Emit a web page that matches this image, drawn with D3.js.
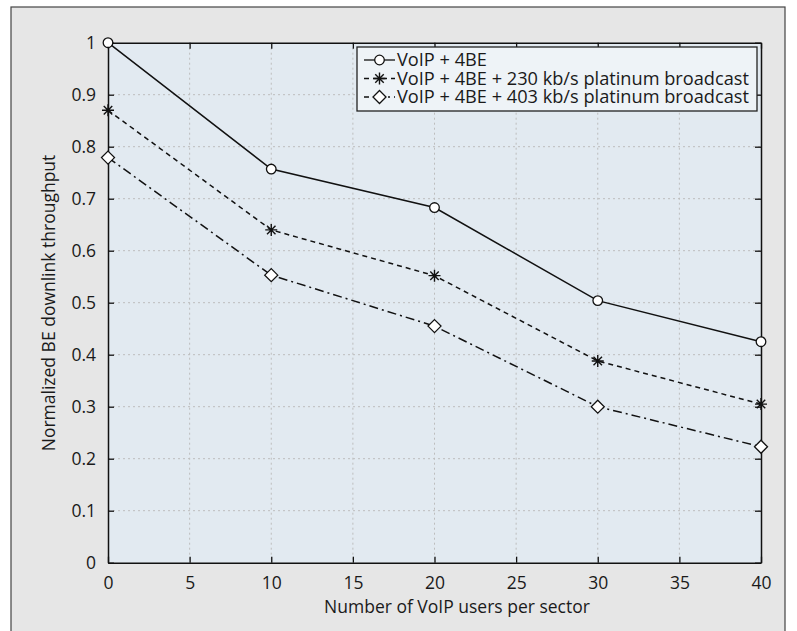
<!DOCTYPE html>
<html lang="en">
<head>
<meta charset="UTF-8">
<title>BE throughput</title>
<style>
  body { margin: 0; background: #fff; }
  text { font-family: "Open Sans", "Noto Sans", sans-serif; fill: #1a1a1a; }
</style>
</head>
<body>
<script src="https://d3js.org/d3.v7.min.js"></script>
<script>
const users = [0, 10, 20, 30, 40]
const base = [1.0, 0.757, 0.683, 0.504, 0.425]
const plat230 = [0.870, 0.640, 0.552, 0.388, 0.305]
const plat403 = [0.779, 0.553, 0.455, 0.300, 0.223]
const xTicks = [0, 5, 10, 15, 20, 25, 30, 35, 40]
const yTicks = [0, 0.1, 0.2, 0.3, 0.4, 0.5, 0.6, 0.7, 0.8, 0.9, 1]
const names = ["VoIP + 4BE",
  "VoIP + 4BE + 230 kb/s platinum broadcast",
  "VoIP + 4BE + 403 kb/s platinum broadcast"]

const W = 797, H = 631
const m = { left: 108, top: 42.7, right: 761, bottom: 562.7 }

const svg = d3.select("body").append("svg")
  .attr("width", W).attr("height", H)

// outer frame
svg.append("rect")
  .attr("x", 11).attr("y", 7).attr("width", 774).attr("height", 640)
  .attr("fill", "#e6e6e6").attr("stroke", "#444").attr("stroke-width", 1.2)

const x = d3.scaleLinear().domain([0, 40]).range([m.left, m.right])
const y = d3.scaleLinear().domain([0, 1]).range([m.bottom, m.top])

svg.append("rect")
  .attr("x", m.left).attr("y", m.top)
  .attr("width", m.right - m.left).attr("height", m.bottom - m.top)
  .attr("fill", "#e2eaf1")

// grid
const grid = svg.append("g").attr("stroke", "#bdbdbd").attr("stroke-dasharray", "2,3")
grid.selectAll(".gx").data(xTicks.slice(1, -1)).enter().append("line")
  .attr("x1", d => x(d)).attr("x2", d => x(d))
  .attr("y1", m.top).attr("y2", m.bottom)
grid.selectAll(".gy").data(yTicks.slice(1, -1)).enter().append("line")
  .attr("y1", d => y(d)).attr("y2", d => y(d))
  .attr("x1", m.left).attr("x2", m.right)

// axes with inward ticks
const axB = svg.append("g").attr("transform", `translate(0,${m.bottom})`)
  .call(d3.axisBottom(x).tickValues(xTicks).tickSize(-6).tickPadding(14).tickSizeOuter(0))
const axT = svg.append("g").attr("transform", `translate(0,${m.top})`)
  .call(d3.axisTop(x).tickValues(xTicks).tickSize(-6).tickFormat("").tickSizeOuter(0))
const axL = svg.append("g").attr("transform", `translate(${m.left},0)`)
  .call(d3.axisLeft(y).tickValues(yTicks).tickSize(-6).tickPadding(12).tickFormat(d3.format("~g")).tickSizeOuter(0))
const axR = svg.append("g").attr("transform", `translate(${m.right},0)`)
  .call(d3.axisRight(y).tickValues(yTicks).tickSize(-6).tickFormat("").tickSizeOuter(0))

;[axB, axT, axL, axR].forEach(a => {
  a.selectAll("path").attr("stroke", "#111").attr("stroke-width", 1.5)
  a.selectAll("line").attr("stroke", "#111").attr("stroke-width", 1.3)
  a.selectAll("text").style("font-size", "17.5px").attr("fill", "#1a1a1a")
    .style("font-family", '"Open Sans", "Noto Sans", sans-serif')
})

// axis titles
svg.append("text")
  .attr("x", 457).attr("y", 613)
  .attr("text-anchor", "middle").style("font-size", "17.5px")
  .text("Number of VoIP users per sector")
svg.append("text")
  .attr("transform", `translate(55,303) rotate(-90)`)
  .attr("text-anchor", "middle").style("font-size", "17.5px")
  .text("Normalized BE downlink throughput")

const series = [
  { vals: base, dash: null, mark: "circle" },
  { vals: plat230, dash: "5,4", mark: "star" },
  { vals: plat403, dash: "9,4,2,4", mark: "diamond" }
]

const line = d3.line().x((d, i) => x(users[i])).y(d => y(d))

function drawMark(g, kind, cx, cy) {
  if (kind === "circle") {
    g.append("circle").attr("cx", cx).attr("cy", cy).attr("r", 4.8)
      .attr("fill", "#fff").attr("stroke", "#111").attr("stroke-width", 1.3)
  } else if (kind === "diamond") {
    const s = 6.5
    g.append("path")
      .attr("d", `M${cx},${cy - s}L${cx + s},${cy}L${cx},${cy + s}L${cx - s},${cy}Z`)
      .attr("fill", "#fff").attr("stroke", "#111").attr("stroke-width", 1.3)
  } else {
    const s = 6
    const d = [0, 45, 90, 135].map(a => {
      const r = a * Math.PI / 180
      return `M${cx - s * Math.cos(r)},${cy - s * Math.sin(r)}L${cx + s * Math.cos(r)},${cy + s * Math.sin(r)}`
    }).join("")
    g.append("path").attr("d", d).attr("stroke", "#111").attr("stroke-width", 1.4)
  }
}

series.forEach(s => {
  svg.append("path").datum(s.vals)
    .attr("d", line).attr("fill", "none")
    .attr("stroke", "#111").attr("stroke-width", 1.5)
    .attr("stroke-dasharray", s.dash)
  const g = svg.append("g")
  s.vals.forEach((v, i) => drawMark(g, s.mark, x(users[i]), y(v)))
})

// legend
const lg = svg.append("g")
lg.append("rect").attr("x", 357).attr("y", 47).attr("width", 400).attr("height", 64)
  .attr("fill", "#eef3f7").attr("stroke", "#222").attr("stroke-width", 1.3)
series.forEach((s, i) => {
  const cy = 60 + i * 18.5
  lg.append("line").attr("x1", 364).attr("x2", 395).attr("y1", cy).attr("y2", cy)
    .attr("stroke", "#111").attr("stroke-width", 1.3)
    .attr("stroke-dasharray", s.dash ? (i === 1 ? "5,4" : "5,4,2,4") : null)
  drawMark(lg, s.mark, 379.5, cy)
  lg.append("text").attr("x", 397).attr("y", cy + 6)
    .style("font-size", "18.2px").text(names[i])
})
</script>
</body>
</html>
